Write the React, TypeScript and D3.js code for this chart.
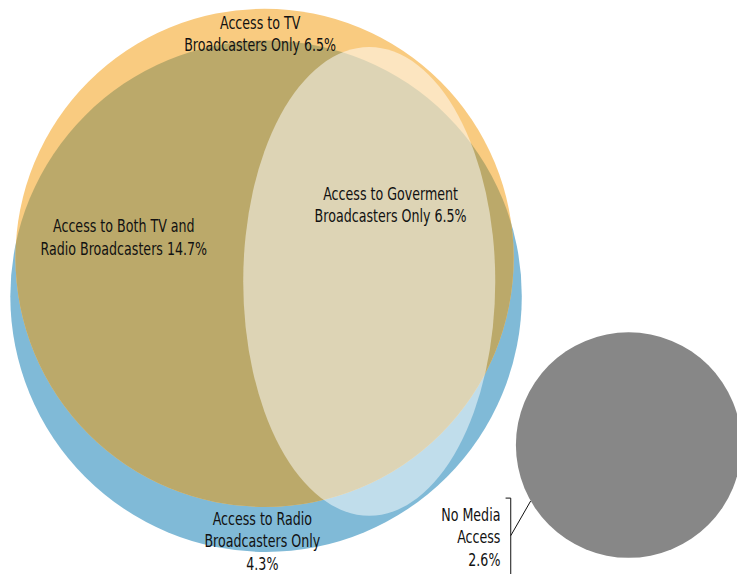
import { useEffect } from "react";
import type { JSX } from "react";
import * as d3 from "d3";

// segments of the media access diagram (share of respondents, %)
const segmentNames = [
  "tvOnly",
  "both",
  "govOnly",
  "radioOnly",
  "none",
];
const segmentLabels = [
  ["Access to TV", "Broadcasters Only 6.5%"],
  ["Access to Both TV and", "Radio Broadcasters 14.7%"],
  ["Access to Goverment", "Broadcasters Only 6.5%"],
  ["Access to Radio", "Broadcasters Only", "4.3%"],
  ["No Media", "Access", "2.6%"],
];
const segmentValues = [6.5, 14.7, 6.5, 4.3, 2.6];

const width = 737;
const height = 574;

// layout in unit space (0..1000 wide, 0..779 tall)
const x = d3.scaleLinear().domain([0, 1000]).range([0, width]);
const y = d3.scaleLinear().domain([0, 779]).range([0, height]);
const r = (v: number) => x(v) - x(0);

const tvCircle = { cx: 359, cy: 350, r: 338 };
const radioCircle = { cx: 361, cy: 402, r: 347 };
const govEllipse = { cx: 501, cy: 382, rx: 171, ry: 318 };
const noneCircle = { cx: 853, cy: 604, r: 153 };

const labelPos = [
  { x: 353, y: 39, anchor: "middle" },
  { x: 168, y: 315, anchor: "middle" },
  { x: 530, y: 271, anchor: "middle" },
  { x: 356, y: 712, anchor: "middle" },
  { x: 679, y: 707, anchor: "end" },
];

const colors = {
  tv: "#f9cb80",
  radio: "#80bad7",
  both: "#bba96a",
  gov: "#ffffff",
  none: "#878787",
  text: "#111111",
};

const lineHeight = 22.5;
const squeeze = 0.76;

export default function App(): JSX.Element {
  useEffect(() => {
    document.body.style.margin = "0";
  }, []);

  const line = d3.line<[number, number]>();
  const bracket: [number, number][] = [
    [x(686), y(676)],
    [x(693), y(676)],
    [x(693), y(779)],
  ];
  const leader: [number, number][] = [
    [x(693), y(727)],
    [x(720), y(680)],
  ];

  return (
    <svg width={width} height={height} style={{ display: "block" }}>
      <defs>
        <clipPath id="radio-clip">
          <circle
            cx={x(radioCircle.cx)}
            cy={y(radioCircle.cy)}
            r={r(radioCircle.r)}
          />
        </clipPath>
      </defs>
      <circle
        cx={x(radioCircle.cx)}
        cy={y(radioCircle.cy)}
        r={r(radioCircle.r)}
        fill={colors.radio}
      />
      <circle
        cx={x(tvCircle.cx)}
        cy={y(tvCircle.cy)}
        r={r(tvCircle.r)}
        fill={colors.tv}
      />
      <circle
        cx={x(tvCircle.cx)}
        cy={y(tvCircle.cy)}
        r={r(tvCircle.r)}
        fill={colors.both}
        clipPath="url(#radio-clip)"
      />
      <ellipse
        cx={x(govEllipse.cx)}
        cy={y(govEllipse.cy)}
        rx={r(govEllipse.rx)}
        ry={r(govEllipse.ry)}
        fill={colors.gov}
        fillOpacity={0.5}
      />
      <circle
        cx={x(noneCircle.cx)}
        cy={y(noneCircle.cy)}
        r={r(noneCircle.r)}
        fill={colors.none}
      />
      <path d={line(bracket) ?? ""} fill="none" stroke="#111" strokeWidth={1} />
      <path d={line(leader) ?? ""} fill="none" stroke="#111" strokeWidth={1} />
      {segmentNames.map((name, i) => (
        <g
          key={name}
          transform={`translate(${x(labelPos[i].x)},${y(labelPos[i].y)}) scale(${squeeze},1)`}
        >
          <text
            data-value={segmentValues[i]}
            textAnchor={labelPos[i].anchor}
            fill={colors.text}
            style={{
              fontFamily: "'DejaVu Sans Condensed', 'DejaVu Sans', sans-serif",
              fontSize: 18.5,
            }}
          >
            {segmentLabels[i].map((t, j) => (
              <tspan key={j} x={0} dy={j === 0 ? 0 : lineHeight}>
                {t}
              </tspan>
            ))}
          </text>
        </g>
      ))}
    </svg>
  );
}
